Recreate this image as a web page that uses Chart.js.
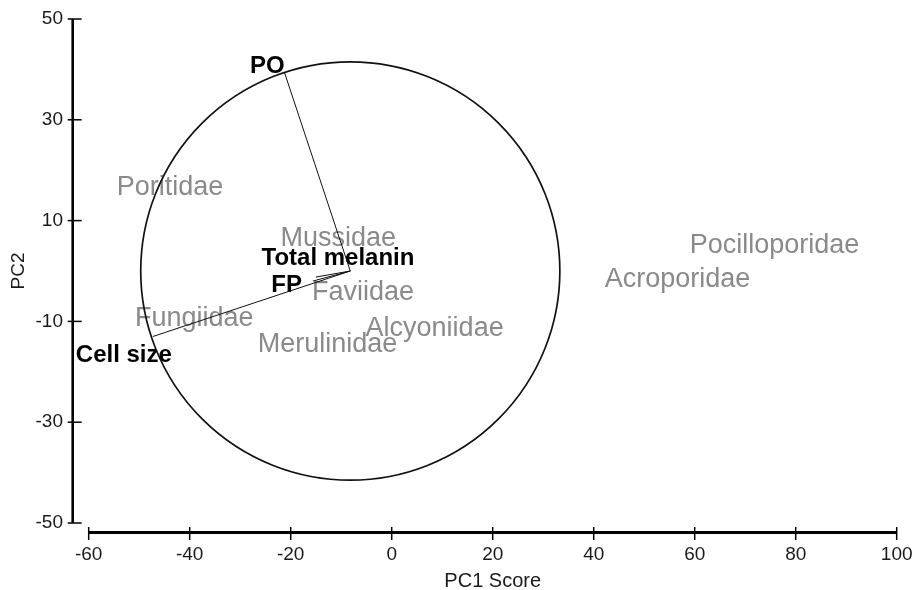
<!DOCTYPE html>
<html>
<head>
<meta charset="utf-8">
<title>PCA biplot</title>
<style>
  html, body { margin: 0; padding: 0; background: #ffffff; }
  #wrap { width: 917px; height: 590px; position: relative; }
</style>
</head>
<body>
<div id="wrap"><canvas id="biplot" width="917" height="590"></canvas></div>
<script src="https://cdn.jsdelivr.net/npm/chart.js@4/dist/chart.umd.min.js"></script>
<script>
// Family scores on the first two principal components
const families = ['Poritidae', 'Mussidae', 'Faviidae', 'Fungiidae', 'Merulinidae', 'Alcyoniidae', 'Pocilloporidae', 'Acroporidae'];
const pc1Scores = [-43.9, -10.6, -5.7, -39.1, -12.7, 8.5, 75.8, 56.6];
const pc2Scores = [16.9, 6.9, -3.8, -8.9, -14.2, -10.9, 5.4, -1.3];

// Variable loadings (vector tips) and the shared vector origin / correlation circle
const loadingNames = ['PO', 'Total melanin', 'FP', 'Cell size'];
const loadingPC1 = [-21.2, -15.0, -15.6, -47.3];
const loadingPC2 = [39.3, -1.2, -2.0, -13.0];
const vectorOrigin = [-8.2, 0];
const circleRadius = 41.5;

// Axis ticks
const xTickValues = [-60, -40, -20, 0, 20, 40, 60, 80, 100];
const yTickValues = [-50, -30, -10, 10, 30, 50];

const FONT = "'Liberation Sans', Arial, Helvetica, sans-serif";

// Label placement for the loading vectors (pixel offsets from the vector tip)
const loadingLabelStyle = [
  { align: 'right',  dx: 0,   dy: 0 },
  { align: 'center', dx: 22,  dy: -12 },
  { align: 'right',  dx: -11, dy: 11 },
  { align: 'left',   dx: -77, dy: 25 }
];

const familyPoints = families.map((f, i) => ({ x: pc1Scores[i], y: pc2Scores[i] }));

const vectorDatasets = loadingNames.map((name, i) => ({
  label: name,
  data: [
    { x: vectorOrigin[0], y: vectorOrigin[1] },
    { x: loadingPC1[i], y: loadingPC2[i] }
  ],
  showLine: true,
  borderColor: '#111111',
  borderWidth: 1,
  pointRadius: 0,
  pointHoverRadius: 0,
  fill: false
}));

const biplotDecor = {
  id: 'biplotDecor',
  beforeDatasetsDraw(chart) {
    const ctx = chart.ctx;
    const xs = chart.scales.x, ys = chart.scales.y;
    ctx.save();
    // family names centred on their scores
    ctx.font = '27px ' + FONT;
    ctx.fillStyle = '#8a8a8a';
    ctx.textAlign = 'center';
    ctx.textBaseline = 'alphabetic';
    families.forEach((name, i) => {
      const px = xs.getPixelForValue(pc1Scores[i]);
      const py = ys.getPixelForValue(pc2Scores[i]);
      ctx.fillText(name, px, py + 27 * 0.358);
    });
    // loading names next to the vector tips
    ctx.font = 'bold 24px ' + FONT;
    ctx.fillStyle = '#000000';
    loadingNames.forEach((name, i) => {
      const st = loadingLabelStyle[i];
      const px = xs.getPixelForValue(loadingPC1[i]);
      const py = ys.getPixelForValue(loadingPC2[i]);
      ctx.textAlign = st.align;
      ctx.fillText(name, px + st.dx, py + st.dy);
    });
    ctx.restore();
  },
  afterDatasetsDraw(chart) {
    const ctx = chart.ctx;
    const xs = chart.scales.x, ys = chart.scales.y;
    const cx = xs.getPixelForValue(vectorOrigin[0]);
    const cy = ys.getPixelForValue(vectorOrigin[1]);
    const rx = Math.abs(xs.getPixelForValue(vectorOrigin[0] + circleRadius) - cx);
    const ry = Math.abs(ys.getPixelForValue(vectorOrigin[1] + circleRadius) - cy);
    ctx.save();
    ctx.strokeStyle = '#111111';
    ctx.lineWidth = 1.7;
    ctx.beginPath();
    ctx.ellipse(cx, cy, rx, ry, 0, 0, Math.PI * 2);
    ctx.stroke();
    ctx.restore();
  },
  afterDraw(chart) {
    const ctx = chart.ctx;
    const xs = chart.scales.x, ys = chart.scales.y;
    const area = chart.chartArea;
    ctx.save();
    ctx.strokeStyle = '#000000';
    // detached vertical axis
    const axX = area.left - 16;
    ctx.lineWidth = 2.6;
    ctx.beginPath();
    ctx.moveTo(axX, ys.getPixelForValue(yTickValues[yTickValues.length - 1]));
    ctx.lineTo(axX, ys.getPixelForValue(yTickValues[0]));
    ctx.stroke();
    ctx.lineWidth = 1.5;
    yTickValues.forEach(v => {
      const py = ys.getPixelForValue(v);
      ctx.beginPath();
      ctx.moveTo(axX - 5, py);
      ctx.lineTo(axX + 9, py);
      ctx.stroke();
    });
    // detached horizontal axis
    const axY = area.bottom + 9.5;
    ctx.lineWidth = 3;
    ctx.beginPath();
    ctx.moveTo(xs.getPixelForValue(xTickValues[0]), axY);
    ctx.lineTo(xs.getPixelForValue(xTickValues[xTickValues.length - 1]), axY);
    ctx.stroke();
    ctx.lineWidth = 1.5;
    xTickValues.forEach(v => {
      const px = xs.getPixelForValue(v);
      ctx.beginPath();
      ctx.moveTo(px, axY - 5.5);
      ctx.lineTo(px, axY + 7.5);
      ctx.stroke();
    });
    ctx.restore();
  }
};

new Chart(document.getElementById('biplot'), {
  type: 'scatter',
  data: {
    datasets: [
      {
        label: 'Families',
        data: familyPoints,
        pointRadius: 0,
        pointHoverRadius: 0,
        showLine: false
      },
      ...vectorDatasets
    ]
  },
  options: {
    responsive: false,
    animation: false,
    devicePixelRatio: 1,
    layout: { padding: { top: 19, right: 20.3, left: 0, bottom: 0 } },
    plugins: {
      legend: { display: false },
      tooltip: { enabled: false },
      title: { display: false }
    },
    events: [],
    scales: {
      x: {
        type: 'linear',
        min: xTickValues[0],
        max: xTickValues[xTickValues.length - 1],
        afterBuildTicks: s => { s.ticks = xTickValues.map(v => ({ value: v })); },
        afterFit: s => { s.height = 67; s.paddingLeft = 0; s.paddingRight = 0; },
        grid: { display: false, drawTicks: false },
        border: { display: false },
        ticks: {
          color: '#1a1a1a',
          font: { family: FONT, size: 19 },
          padding: 20,
          autoSkip: false,
          maxRotation: 0
        },
        title: {
          display: true,
          text: 'PC1 Score',
          color: '#1a1a1a',
          font: { family: FONT, size: 20 },
          padding: { top: 0, bottom: -3 }
        }
      },
      y: {
        type: 'linear',
        min: yTickValues[0],
        max: yTickValues[yTickValues.length - 1],
        afterBuildTicks: s => { s.ticks = yTickValues.map(v => ({ value: v })); },
        afterFit: s => { s.width = 88.7; s.paddingTop = 0; s.paddingBottom = 0; },
        grid: { display: false, drawTicks: false },
        border: { display: false },
        ticks: {
          color: '#1a1a1a',
          font: { family: FONT, size: 19 },
          padding: 25.7,
          autoSkip: false
        },
        title: {
          display: true,
          text: 'PC2',
          color: '#1a1a1a',
          font: { family: FONT, size: 19 },
          padding: { top: 7, bottom: 0 }
        }
      }
    }
  },
  plugins: [biplotDecor]
});
</script>
</body>
</html>
